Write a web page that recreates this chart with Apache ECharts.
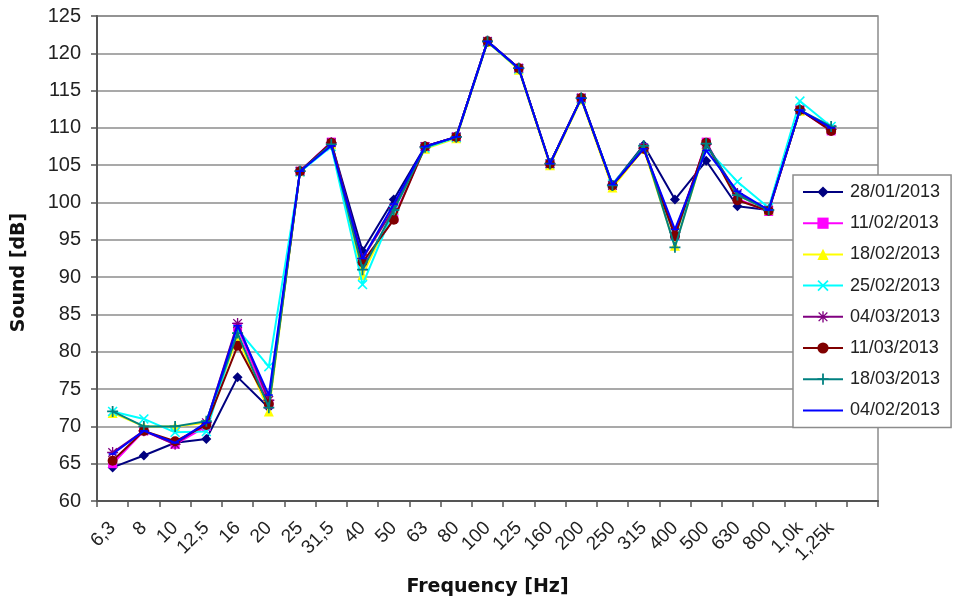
<!DOCTYPE html>
<html>
<head>
<meta charset="utf-8">
<title>Sound level by frequency</title>
<script src="https://cdn.jsdelivr.net/npm/echarts@6/dist/echarts.min.js"></script>
<style>
  html, body { margin: 0; padding: 0; background: #ffffff; }
  #chart { width: 954px; height: 603px; }
</style>
</head>
<body>
<div id="chart"></div>
<script>
// Third-octave band centre frequencies (Hz)
const frequencies = ['6,3', '8', '10', '12,5', '16', '20', '25', '31,5', '40', '50', '63', '80',
  '100', '125', '160', '200', '250', '315', '400', '500', '630', '800', '1,0k', '1,25k'];

// Y axis range and step (dB)
const yMin = 60;
const yMax = 125;
const yStep = 5;

// Measurement dates, in legend order
const dates = ['28/01/2013', '11/02/2013', '18/02/2013', '25/02/2013',
  '04/03/2013', '11/03/2013', '18/03/2013', '04/02/2013'];

// Sound level per band (dB), one array per measurement date
const level_28_01 = [64.5, 66.1, 67.8, 68.3, 76.6, 72.5, 104.2, 108.0, 93.5, 100.4, 107.5, 108.8,
  121.6, 118.0, 105.2, 114.0, 102.4, 107.7, 100.4, 105.6, 99.5, 99.0, 112.4, 109.8];
const level_11_02 = [65.0, 69.4, 67.6, 70.0, 83.3, 73.0, 104.2, 108.1, 91.5, 97.9, 107.5, 108.8,
  121.6, 118.0, 105.2, 114.0, 102.3, 107.3, 95.5, 108.1, 100.5, 98.8, 112.4, 109.6];
const level_18_02 = [71.8, 70.0, 70.0, 70.5, 82.0, 72.0, 104.2, 107.8, 90.3, 99.0, 107.2, 108.6,
  121.5, 117.8, 105.0, 113.8, 102.0, 107.2, 94.2, 107.6, 101.0, 99.0, 112.3, 110.0];
const level_25_02 = [72.0, 71.0, 69.2, 69.3, 83.0, 78.0, 104.1, 107.5, 89.0, 99.0, 107.3, 108.7,
  121.5, 117.9, 105.2, 113.9, 102.5, 107.3, 95.5, 107.3, 102.8, 99.3, 113.6, 110.2];
const level_04_03 = [66.5, 69.4, 67.6, 70.5, 83.8, 73.5, 104.2, 108.0, 92.5, 99.2, 107.5, 108.8,
  121.6, 118.0, 105.2, 114.0, 102.3, 107.3, 96.0, 107.8, 101.2, 99.0, 112.4, 109.8];
const level_11_03 = [65.4, 69.4, 68.0, 70.2, 80.8, 73.0, 104.2, 108.0, 92.0, 97.7, 107.5, 108.8,
  121.6, 118.0, 105.2, 114.0, 102.3, 107.2, 95.5, 108.0, 100.3, 98.9, 112.4, 109.6];
const level_18_03 = [72.0, 70.0, 70.0, 70.7, 82.5, 72.5, 104.2, 107.8, 91.0, 99.0, 107.4, 108.8,
  121.6, 118.0, 105.2, 114.0, 102.3, 107.6, 94.0, 107.9, 101.0, 99.0, 112.4, 110.2];
const level_04_02 = [66.3, 69.4, 67.8, 70.5, 83.5, 74.2, 104.2, 107.6, 92.5, 99.8, 107.5, 108.8,
  121.6, 118.0, 105.2, 114.0, 102.4, 107.2, 96.4, 107.0, 101.5, 99.0, 112.4, 110.0];

// Marker shapes drawn as filled paths
const PLUS = 'path://M4.2,0H5.8V4.2H10V5.8H5.8V10H4.2V5.8H0V4.2H4.2Z';
const CROSS = 'path://M1.1,0L5,3.9L8.9,0L10,1.1L6.1,5L10,8.9L8.9,10L5,6.1L1.1,10L0,8.9L3.9,5L0,1.1Z';
const ASTERISK = 'path://M4.4,0H5.6V4.4H10V5.6H5.6V10H4.4V5.6H0V4.4H4.4Z' +
  'M1.5,0.7L5,4.2L8.5,0.7L9.3,1.5L5.8,5L9.3,8.5L8.5,9.3L5,5.8L1.5,9.3L0.7,8.5L4.2,5L0.7,1.5Z';
const DASH = 'path://M0,4H10V6H0Z';
// Plain line icon for the legend entry whose marker is a dash
const LINE_ICON = 'path://M0,0H40V2H0Z';

const styles = [
  { data: level_28_01, color: '#000080', symbol: 'diamond', size: 10 },
  { data: level_11_02, color: '#ff00ff', symbol: 'rect', size: 9 },
  { data: level_18_02, color: '#ffff00', symbol: 'triangle', size: 10 },
  { data: level_25_02, color: '#00ffff', symbol: CROSS, size: 10 },
  { data: level_04_03, color: '#800080', symbol: ASTERISK, size: 11 },
  { data: level_11_03, color: '#800000', symbol: 'circle', size: 10 },
  { data: level_18_03, color: '#008080', symbol: PLUS, size: 11 },
  { data: level_04_02, color: '#0000ff', symbol: DASH, size: 8, keepAspect: true }
];

const series = dates.map((name, i) => ({
  name: name,
  type: 'line',
  data: styles[i].data,
  symbol: styles[i].symbol,
  symbolSize: styles[i].size,
  symbolKeepAspect: !!styles[i].keepAspect,
  showAllSymbol: true,
  lineStyle: { color: styles[i].color, width: 2 },
  itemStyle: { color: styles[i].color, borderWidth: 0 },
  emphasis: { disabled: true },
  z: 2 + i
}));

const legendItems = dates.map((name, i) =>
  styles[i].keepAspect ? { name: name, icon: LINE_ICON } : { name: name });

// One spare band after the last frequency leaves room at the right edge
const axisCategories = frequencies.concat(['']);

const LABEL_FONT = "'Liberation Sans', Arial, sans-serif";
const TITLE_FONT = "'DejaVu Sans', sans-serif";

const chart = echarts.init(document.getElementById('chart'), null, { renderer: 'canvas' });
chart.setOption({
  animation: false,
  backgroundColor: '#ffffff',
  textStyle: { fontFamily: LABEL_FONT },
  grid: {
    left: 97, right: 76, top: 16, bottom: 102,
    show: true, borderColor: '#8c8c8c', borderWidth: 1.5, backgroundColor: 'transparent'
  },
  legend: {
    orient: 'vertical',
    left: 793, top: 175,
    width: 157,
    padding: [8, 11, 8, 9],
    backgroundColor: '#ffffff',
    borderColor: '#8c8c8c',
    borderWidth: 1.5,
    borderRadius: 0,
    itemWidth: 40,
    itemHeight: 14,
    itemGap: 13.2,
    symbolKeepAspect: true,
    textStyle: { fontSize: 18, color: '#222222', fontFamily: LABEL_FONT, padding: [0, 0, 0, 2] },
    data: legendItems
  },
  xAxis: {
    type: 'category',
    data: axisCategories,
    boundaryGap: true,
    name: 'Frequency [Hz]',
    nameLocation: 'middle',
    nameGap: 77,
    nameTextStyle: { fontSize: 19, fontWeight: 'bold', color: '#111111', fontFamily: TITLE_FONT },
    axisLine: { lineStyle: { color: '#555555', width: 2 } },
    axisTick: { show: true, alignWithLabel: false, length: 6, lineStyle: { color: '#555555', width: 1.5 } },
    axisLabel: { rotate: 45, margin: 24, fontSize: 19, color: '#222222', interval: 0, fontFamily: LABEL_FONT },
    splitLine: { show: false }
  },
  yAxis: {
    type: 'value',
    min: yMin, max: yMax, interval: yStep,
    name: 'Sound [dB]',
    nameLocation: 'middle',
    nameGap: 68,
    nameRotate: 90,
    nameTextStyle: { fontSize: 19, fontWeight: 'bold', color: '#111111', fontFamily: TITLE_FONT, padding: [0, 0, 0, -28] },
    axisLine: { show: true, lineStyle: { color: '#555555', width: 2 } },
    axisTick: { show: true, length: 6, lineStyle: { color: '#555555', width: 1.5 } },
    axisLabel: { fontSize: 20, color: '#222222', margin: 16, fontFamily: LABEL_FONT },
    splitLine: { show: true, lineStyle: { color: '#8c8c8c', width: 1.5 } }
  },
  series: series
});
</script>
</body>
</html>
